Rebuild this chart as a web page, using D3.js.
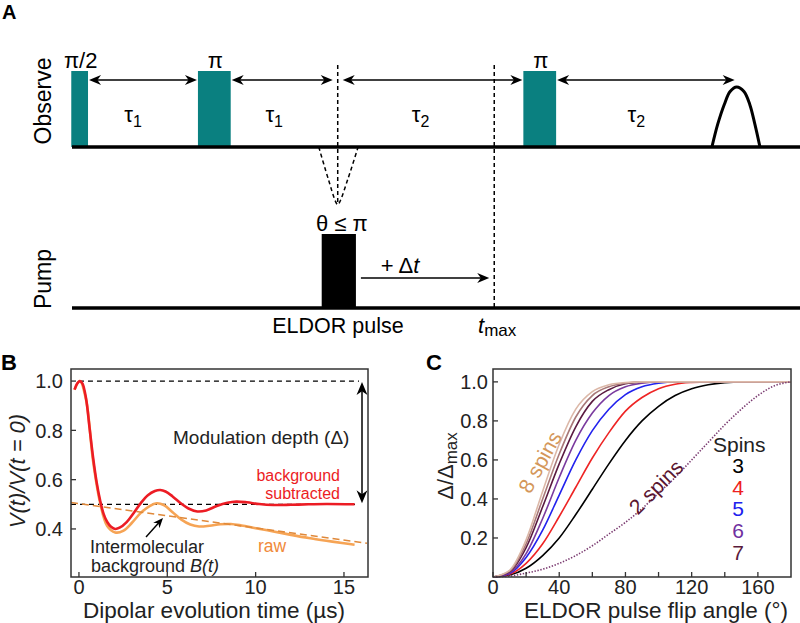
<!DOCTYPE html>
<html><head><meta charset="utf-8">
<script src="https://cdn.jsdelivr.net/npm/d3@7"></script>
<style>body{margin:0;background:#fff}svg{display:block}text{font-family:"Liberation Sans",Arial,Helvetica,sans-serif}</style>
</head><body>
<svg id="c" width="800" height="623"></svg>
<script>
// ---------- Panel A data (timeline units) ----------
const obsPulses = [{label:"π/2", t0:-0.1, t1:2.2}, {label:"π", t0:17.3, t1:21.8}, {label:"π", t0:62.0, t1:66.5}];
const pumpPulse = {t0:34.3, t1:39.0};
const obsArrows = [{a:2.2, b:17.3, lab:"1"}, {a:21.8, b:36.5, lab:"1"}, {a:36.5, b:62.0, lab:"2"}, {a:66.5, b:91.3, lab:"2"}];
const echoT = [87.9, 88.7, 89.6, 90.4, 91.3, 92.3, 93.1, 93.8, 94.5];
const echoH = [0, 0.30, 0.56, 0.73, 0.79, 0.73, 0.56, 0.30, 0];
const markDrop = 36.5, markTmax = 58.0;
const dipT = [33.9, 35.2, 36.5, 37.9, 39.3];
const dipH = [0, -0.42, -0.76, -0.42, 0];

// ---------- Panel B data ----------
const redT = [-0.25,-0.1,0.05,0.2,0.4,0.6,0.8,1.0,1.2,1.4,1.6,1.8,2.05,2.3,2.7,3.1,3.5,3.9,4.3,4.6,4.9,5.3,5.8,6.2,6.7,7.2,7.8,8.4,8.9,9.5,10.2,11,12,13,14,15.6];
const redV = [0.965,0.99,1.0,0.99,0.93,0.81,0.69,0.59,0.515,0.46,0.428,0.41,0.40,0.405,0.428,0.465,0.505,0.537,0.554,0.558,0.552,0.532,0.502,0.483,0.471,0.475,0.493,0.506,0.511,0.508,0.501,0.497,0.498,0.500,0.501,0.500];
const rawT = [-0.25,0.05,0.4,0.8,1.2,1.6,2.05,2.5,3.0,3.5,4.0,4.4,4.8,5.3,5.8,6.3,6.8,7.4,8.0,8.6,9.2,10,11,12,13,14,15,15.6];
const rawV = [0.965,1.0,0.925,0.675,0.505,0.412,0.386,0.392,0.425,0.465,0.493,0.504,0.497,0.468,0.438,0.418,0.41,0.413,0.419,0.42,0.414,0.403,0.39,0.376,0.363,0.352,0.342,0.336];
const bgT = [-0.45, 16.3];
const bgV = [0.507, 0.342];
const bXTicks = [0, 5, 10, 15];
const bYTicks = [0.4, 0.6, 0.8, 1.0];

// ---------- Panel C data ----------
const angles = [0,10,20,30,40,50,60,70,80,90,100,110,120,130,140,150,160,170,180];
const spins2 = [0,0.005,0.02,0.04,0.07,0.11,0.16,0.22,0.28,0.35,0.43,0.51,0.60,0.69,0.78,0.86,0.93,0.98,1.0];
const spins3 = [0,0.01,0.045,0.11,0.20,0.32,0.45,0.58,0.70,0.80,0.875,0.93,0.965,0.985,0.996,1.0,1.0,1.0,1.0];
const spins4 = [0,0.014,0.07,0.17,0.31,0.46,0.61,0.74,0.85,0.92,0.965,0.988,0.997,1.0,1.0,1.0,1.0,1.0,1.0];
const spins5 = [0,0.018,0.10,0.24,0.42,0.60,0.75,0.86,0.935,0.975,0.993,1.0,1.0,1.0,1.0,1.0,1.0,1.0,1.0];
const spins6 = [0,0.022,0.12,0.30,0.51,0.70,0.84,0.93,0.975,0.993,1.0,1.0,1.0,1.0,1.0,1.0,1.0,1.0,1.0];
const spins7 = [0,0.026,0.15,0.36,0.58,0.77,0.90,0.96,0.99,0.998,1.0,1.0,1.0,1.0,1.0,1.0,1.0,1.0,1.0];
const spins8 = [0,0.03,0.17,0.40,0.63,0.82,0.93,0.975,0.993,1.0,1.0,1.0,1.0,1.0,1.0,1.0,1.0,1.0,1.0];
const spins9 = [0,0.034,0.19,0.44,0.68,0.86,0.95,0.985,0.997,1.0,1.0,1.0,1.0,1.0,1.0,1.0,1.0,1.0,1.0];
const cXTicks = [0,20,40,60,80,100,120,140,160];
const cXLabels = [0,40,80,120,160];
const cYTicks = [0.2,0.4,0.6,0.8,1.0];
const legendSpins = ["3","4","5","6","7"];

const svg = d3.select("#c");

function head(g, x, y, ang, size, color){
  const L=size, W=size*0.42, B=size*0.7;
  const c=Math.cos(ang), s=Math.sin(ang);
  const pts=[[0,0],[-L,-W],[-B,0],[-L,W]].map(([u,v])=>[x+u*c-v*s, y+u*s+v*c]);
  g.append("path").attr("d","M"+pts.map(p=>p.join(",")).join("L")+"Z").attr("fill",color||"#000");
}
function arrow(g,x1,y1,x2,y2,both,opt){
  opt=opt||{};
  const ang=Math.atan2(y2-y1,x2-x1), sz=opt.size||11;
  const off=sz*0.6;
  g.append("line").attr("x1",x1+(both?Math.cos(ang)*off:0)).attr("y1",y1+(both?Math.sin(ang)*off:0))
   .attr("x2",x2-Math.cos(ang)*off).attr("y2",y2-Math.sin(ang)*off)
   .attr("stroke",opt.color||"#000").attr("stroke-width",opt.w||1.5);
  head(g,x2,y2,ang,sz,opt.color);
  if(both) head(g,x1,y1,ang+Math.PI,sz,opt.color);
}

// ================= Panel A =================
const gA = svg.append("g");
const xA = d3.scaleLinear().domain([0,100]).range([72,800]);
const yObs = d3.scaleLinear().domain([0,1]).range([147,71]);
const yPump = d3.scaleLinear().domain([0,1]).range([308,234]);
const teal = "#0a8080";

gA.append("text").attr("x",2).attr("y",19).attr("font-size",20).attr("font-weight","bold").text("A");
gA.append("text").attr("transform","translate(51,101) rotate(-90)").attr("text-anchor","middle").attr("font-size",23).text("Observe");
gA.append("text").attr("transform","translate(51,279) rotate(-90)").attr("text-anchor","middle").attr("font-size",23).text("Pump");

gA.append("line").attr("x1",xA(markDrop)).attr("x2",xA(markDrop)).attr("y1",65).attr("y2",yObs(-0.76))
  .attr("stroke","#000").attr("stroke-width",1.5).attr("stroke-dasharray","4,3");
gA.append("line").attr("x1",xA(markTmax)).attr("x2",xA(markTmax)).attr("y1",65).attr("y2",yPump(0))
  .attr("stroke","#000").attr("stroke-width",1.5).attr("stroke-dasharray","4,3");
gA.append("path").datum(dipT.map((t,i)=>[t,dipH[i]]))
  .attr("d",d3.line().x(d=>xA(d[0])).y(d=>yObs(d[1])).curve(d3.curveCardinal.tension(0.3)))
  .attr("fill","none").attr("stroke","#000").attr("stroke-width",1.5).attr("stroke-dasharray","4,3");

gA.selectAll(".op").data(obsPulses).join("rect")
  .attr("x",d=>xA(d.t0)).attr("width",d=>xA(d.t1)-xA(d.t0))
  .attr("y",yObs(1)).attr("height",yObs(0)-yObs(1)).attr("fill",teal);
gA.selectAll(".opl").data(obsPulses).join("text")
  .attr("x",d=>xA((d.t0+d.t1)/2)+1).attr("y",68).attr("text-anchor","middle").attr("font-size",22).text(d=>d.label);
gA.append("path").datum(echoT.map((t,i)=>[t,echoH[i]]))
  .attr("d",d3.line().x(d=>xA(d[0])).y(d=>yObs(d[1])).curve(d3.curveCatmullRom))
  .attr("fill","none").attr("stroke","#000").attr("stroke-width",3);
gA.append("line").attr("x1",xA(0)).attr("x2",800).attr("y1",yObs(0)).attr("y2",yObs(0)).attr("stroke","#000").attr("stroke-width",3.5);
gA.append("line").attr("x1",xA(0)).attr("x2",800).attr("y1",yPump(0)).attr("y2",yPump(0)).attr("stroke","#000").attr("stroke-width",3.5);
obsArrows.forEach((d,i)=>{
  let a=xA(d.a), b=xA(d.b);
  if(i===1) b-=4; if(i===2) a+=4;
  if(i===3) b-=1;
  arrow(gA,a+1,80,b-1,80,true,{size:12,w:1.5});
  const t=gA.append("text").attr("x",(xA(d.a)+xA(d.b))/2-10).attr("y",122).attr("text-anchor","middle").attr("font-size",22);
  t.append("tspan").text("τ");
  t.append("tspan").attr("font-size",16).attr("dy",5).text(d.lab);
});
gA.append("rect").attr("x",xA(pumpPulse.t0)).attr("width",xA(pumpPulse.t1)-xA(pumpPulse.t0))
  .attr("y",yPump(1)).attr("height",yPump(0)-yPump(1)).attr("fill","#000");
gA.append("text").attr("x",xA((pumpPulse.t0+pumpPulse.t1)/2)+3).attr("y",231).attr("text-anchor","middle").attr("font-size",22).text("θ ≤ π");
arrow(gA,xA(pumpPulse.t1)+5,278,xA(markTmax)-5,278,false,{size:12,w:1.5});
{
  const t=gA.append("text").attr("x",400).attr("y",273).attr("text-anchor","middle").attr("font-size",22);
  t.append("tspan").text("+ Δ");
  t.append("tspan").attr("font-style","italic").text("t");
}
gA.append("text").attr("x",338).attr("y",333).attr("text-anchor","middle").attr("font-size",21.5).text("ELDOR pulse");
{
  const t=gA.append("text").attr("x",478).attr("y",333).attr("font-size",22);
  t.append("tspan").attr("font-style","italic").text("t");
  t.append("tspan").attr("font-size",17).attr("dy",3).text("max");
}

// ================= Panel B =================
const gB = svg.append("g");
const xB = d3.scaleLinear().domain([-0.45,16.36]).range([71,368]);
const yB = d3.scaleLinear().domain([0.205,1.049]).range([577,369]);
gB.append("text").attr("x",1).attr("y",370).attr("font-size",22).attr("font-weight","bold").text("B");

gB.append("line").attr("x1",xB(0)).attr("x2",359).attr("y1",yB(1)).attr("y2",yB(1)).attr("stroke","#000").attr("stroke-width",1.3).attr("stroke-dasharray","5,4");
gB.append("line").attr("x1",xB(-0.45)).attr("x2",359).attr("y1",yB(0.5)).attr("y2",yB(0.5)).attr("stroke","#000").attr("stroke-width",1.3).attr("stroke-dasharray","5,4");

const lineB = d3.line().x(d=>xB(d[0])).y(d=>yB(d[1])).curve(d3.curveCatmullRom.alpha(0.5));
gB.append("path").datum(rawT.map((t,i)=>[t,rawV[i]])).attr("d",lineB).attr("fill","none").attr("stroke","#f6a455").attr("stroke-width",2.6);
gB.append("path").datum(bgT.map((t,i)=>[t,bgV[i]])).attr("d",d3.line().x(d=>xB(d[0])).y(d=>yB(d[1])))
  .attr("fill","none").attr("stroke","#e0893a").attr("stroke-width",1.6).attr("stroke-dasharray","7,4");
gB.append("path").datum(redT.map((t,i)=>[t,redV[i]])).attr("d",lineB).attr("fill","none").attr("stroke","#ec1c24").attr("stroke-width",2.6);

arrow(gB,362,yB(1.0)+1,362,yB(0.5)-1,true,{size:13,w:1.5});

gB.append("rect").attr("x",71).attr("y",369).attr("width",297).attr("height",208).attr("fill","none").attr("stroke","#333").attr("stroke-width",1.5);
gB.selectAll(".xt").data(bXTicks).join("line").attr("x1",d=>xB(d)).attr("x2",d=>xB(d)).attr("y1",577).attr("y2",572).attr("stroke","#333").attr("stroke-width",1.3);
gB.selectAll(".yt").data(bYTicks).join("line").attr("y1",d=>yB(d)).attr("y2",d=>yB(d)).attr("x1",71).attr("x2",76).attr("stroke","#333").attr("stroke-width",1.3);
gB.selectAll(".xl").data(bXTicks).join("text").attr("x",d=>xB(d)).attr("y",594).attr("text-anchor","middle").attr("font-size",20).attr("fill","#222").text(d=>d);
gB.selectAll(".yl").data(bYTicks).join("text").attr("x",63).attr("y",d=>yB(d)).attr("dy","0.36em").attr("text-anchor","end").attr("font-size",20).attr("fill","#222").text(d=>d.toFixed(1));
gB.append("text").attr("x",214).attr("y",618).attr("text-anchor","middle").attr("font-size",22.5).attr("fill","#222").text("Dipolar evolution time (µs)");
gB.append("text").attr("transform","translate(25,471) rotate(-90)").attr("text-anchor","middle").attr("font-size",22).attr("font-style","italic").attr("fill","#222").text("V(t)/V(t = 0)");

gB.append("text").attr("x",173).attr("y",444).attr("font-size",19).attr("fill","#222").text("Modulation depth (Δ)");
gB.append("text").attr("x",340).attr("y",481).attr("text-anchor","end").attr("font-size",16).attr("fill","#ec1c24").text("background");
gB.append("text").attr("x",340).attr("y",499).attr("text-anchor","end").attr("font-size",16).attr("fill","#ec1c24").text("subtracted");
gB.append("text").attr("x",258).attr("y",552).attr("font-size",17.5).attr("fill","#f08a3a").text("raw");
gB.append("text").attr("x",90).attr("y",553).attr("font-size",18).attr("fill","#222").text("Intermolecular");
{
  const t=gB.append("text").attr("x",91).attr("y",572).attr("font-size",18).attr("fill","#222");
  t.append("tspan").text("background ");
  t.append("tspan").attr("font-style","italic").text("B(t)");
}
arrow(gB,146,537,163,518,false,{size:10,w:1.4});

// ================= Panel C =================
const gC = svg.append("g");
const xC = d3.scaleLinear().domain([0,180]).range([493,791]);
const yC = d3.scaleLinear().domain([0,1.066]).range([577,369]);
gC.append("text").attr("x",426).attr("y",370).attr("font-size",22).attr("font-weight","bold").text("C");

const lineC = d3.line().x(d=>xC(d[0])).y(d=>yC(d[1])).curve(d3.curveMonotoneX);
const series = [
  {v:spins9, c:"#dcb8a8", w:1.6},
  {v:spins8, c:"#a87878", w:1.6},
  {v:spins7, c:"#5a1a40", w:1.6},
  {v:spins6, c:"#7a3a9e", w:1.6},
  {v:spins5, c:"#2222ee", w:1.6},
  {v:spins4, c:"#ee2424", w:1.6},
  {v:spins3, c:"#000000", w:1.6}
];
series.slice().reverse().forEach(s=>{
  gC.append("path").datum(angles.map((a,i)=>[a,s.v[i]])).attr("d",lineC).attr("fill","none").attr("stroke",s.c).attr("stroke-width",s.w);
});
gC.append("path").datum(angles.map((a,i)=>[a,spins2[i]])).attr("d",lineC).attr("fill","none").attr("stroke","#7a3a70").attr("stroke-width",1.6).attr("stroke-dasharray","1.4,1.6");

gC.append("rect").attr("x",493).attr("y",369).attr("width",298).attr("height",208).attr("fill","none").attr("stroke","#333").attr("stroke-width",1.5);
gC.selectAll(".xt").data(cXTicks).join("line").attr("x1",d=>xC(d)).attr("x2",d=>xC(d)).attr("y1",577).attr("y2",572).attr("stroke","#333").attr("stroke-width",1.3);
gC.selectAll(".yt").data(cYTicks).join("line").attr("y1",d=>yC(d)).attr("y2",d=>yC(d)).attr("x1",493).attr("x2",498).attr("stroke","#333").attr("stroke-width",1.3);
gC.selectAll(".xl").data(cXLabels).join("text").attr("x",d=>xC(d)).attr("y",594).attr("text-anchor","middle").attr("font-size",20).attr("fill","#222").text(d=>d);
gC.selectAll(".yl").data(cYTicks).join("text").attr("x",488).attr("y",d=>yC(d)).attr("dy","0.36em").attr("text-anchor","end").attr("font-size",20).attr("fill","#222").text(d=>d.toFixed(1));
gC.append("text").attr("x",656).attr("y",618).attr("text-anchor","middle").attr("font-size",22.5).attr("fill","#222").text("ELDOR pulse flip angle (°)");
{
  const t=gC.append("text").attr("transform","translate(453,466) rotate(-90)").attr("text-anchor","middle").attr("font-size",22).attr("fill","#222");
  t.append("tspan").text("Δ/Δ");
  t.append("tspan").attr("font-size",17).attr("dy",4).text("max");
}
gC.append("text").attr("x",713).attr("y",452).attr("font-size",21).attr("fill","#222").text("Spins");
const legColors = ["#000","#ee2020","#2020ee","#7030a0","#5a1a3a"];
gC.selectAll(".lg").data(legendSpins).join("text").attr("x",738).attr("y",(d,i)=>473+i*21.7).attr("text-anchor","middle").attr("font-size",21).attr("fill",(d,i)=>legColors[i]).text(d=>d);
gC.append("text").attr("transform","translate(540,462) rotate(-61)").attr("text-anchor","middle").attr("dy","0.35em").attr("font-size",21).attr("fill","#d4975a").text("8 spins");
gC.append("text").attr("transform","translate(656,487) rotate(-45)").attr("text-anchor","middle").attr("dy","0.35em").attr("font-size",21).attr("fill","#5a1530").text("2 spins");
</script>
</body></html>
